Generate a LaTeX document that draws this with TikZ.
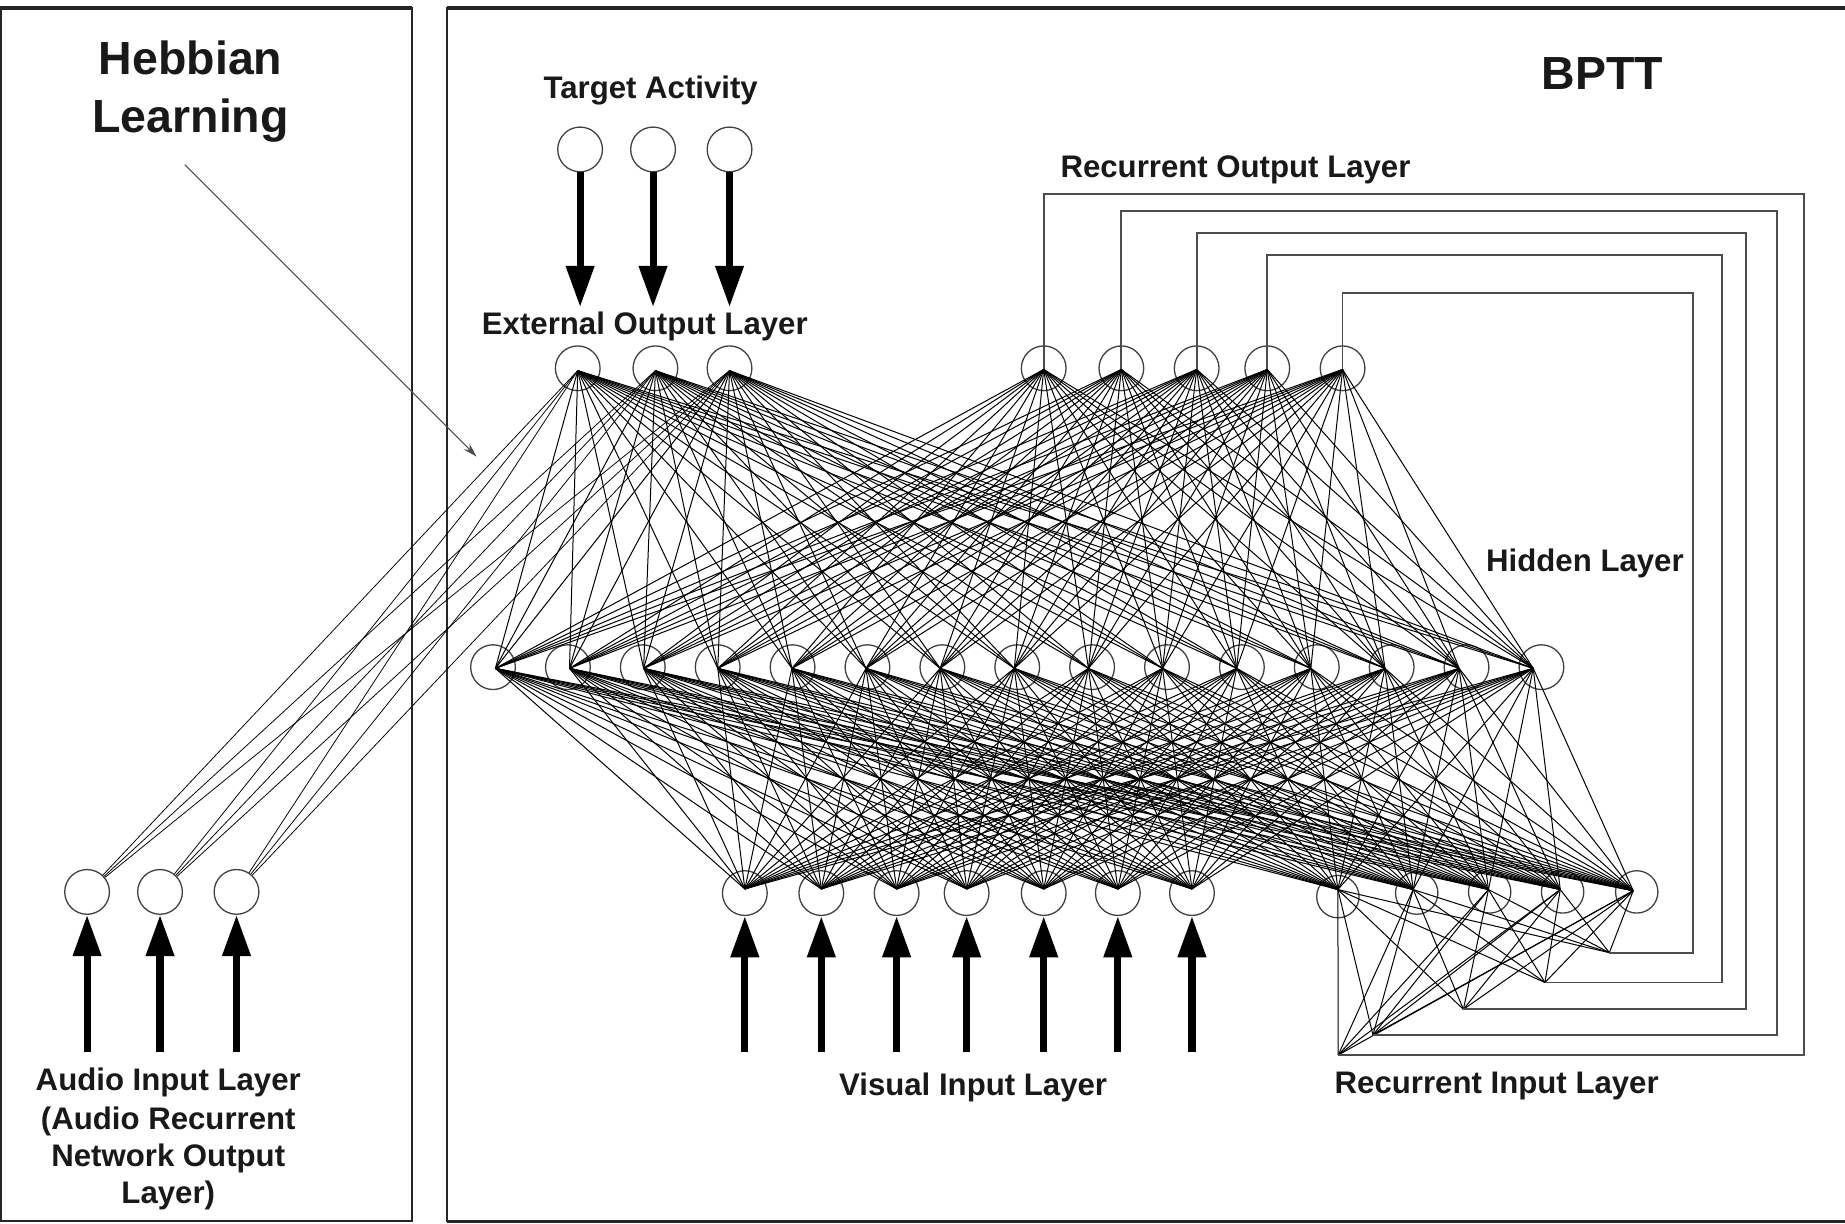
\documentclass[tikz,border=0pt]{standalone}
\usepackage{fontspec}
\setmainfont{Liberation Sans}
\usetikzlibrary{arrows.meta}
\begin{document}
\begin{tikzpicture}[x=1pt,y=-1pt,
  unit/.style={circle, draw=black!75, line width=1.1pt, minimum size=38pt, inner sep=0pt},
  conn/.style={line width=0.85pt, black},
  loopline/.style={line width=1.5pt, black!70},
  bigarrow/.style={line width=6pt, black, -{Triangle[length=35pt,width=23pt]}},
  lbl/.style={font=\fontsize{26.5}{32}\selectfont\bfseries, inner sep=0pt, anchor=base, text=black!90},
  ttl/.style={font=\fontsize{39.5}{49}\selectfont\bfseries, inner sep=0pt, anchor=base, text=black!90},
  framel/.style={line width=1.6pt, black!85},
  framet/.style={line width=3pt, black!85}
]
\useasboundingbox (0,0) rectangle (1568,1040);

% frames
\draw[framel] (1,7) rectangle (350,1038);
\draw[framet] (0,7) -- (350,7);
\draw[framel] (1575,7) -- (380,7) -- (380,1038) -- (1575,1038);
\draw[framet] (380,7) -- (1575,7);
\draw[framet] (380,1038) -- (1575,1038);

% ---------- coordinates / ports ----------
% hidden layer
\foreach \k in {1,...,15}{
  \pgfmathsetmacro{\hx}{421+63*(\k-1)}
  \coordinate (hp\k) at (\hx,568);
}
% external output
\foreach \j/\x in {1/491,2/557,3/620}{
  \coordinate (eop\j) at (\x,315);
}
% recurrent output
\foreach \j/\x in {1/887,2/953,3/1017,4/1077,5/1141}{
  \coordinate (rop\j) at (\x,314);
}
% visual input
\foreach \j/\x in {1/633,2/698,3/762,4/821.5,5/887,6/950,7/1013}{
  \coordinate (vp\j) at (\x,755.5);
  \coordinate (vb\j) at (\x,894);
}
% recurrent input
\foreach \j/\x/\y in {1/1137/756,2/1201/756,3/1265/756,4/1326/756,5/1388/757}{
  \coordinate (rip\j) at (\x,\y);
}
% loop end points
\foreach \j/\x/\y in {1/1137.3/896.6,2/1166.8/879.6,3/1243.7/857.8,4/1313/835,5/1367.7/809.6}{
  \coordinate (b\j) at (\x,\y);
}
% loop corners
\foreach \j/\x/\y in {1/1533/165,2/1510/179,3/1484/198,4/1463.5/217,5/1439/249}{
  \coordinate (lc\j) at (\x,\y);
}

% ---------- nodes ----------
\foreach \k in {1,...,15}{
  \pgfmathsetmacro{\hc}{421+63*(\k-1)-2+9*(\k-1)/14}
  \node[unit] (h\k) at (\hc,567) {};
}
\foreach \j/\x in {1/491,2/557,3/620}{
  \node[unit] (eo\j) at (\x,313) {};
}
\foreach \j/\x in {1/887,2/953,3/1017,4/1077,5/1141}{
  \node[unit] (ro\j) at (\x,313) {};
}
\foreach \j/\x in {1/633,2/698,3/762,4/821.5,5/887,6/950,7/1013}{
  \node[unit] (v\j) at (\x,759) {};
}
\foreach \j/\x/\y in {1/1137/762,2/1204/759,3/1266/758,4/1328/758,5/1391/758}{
  \node[unit, minimum size=36pt] (ri\j) at (\x,\y) {};
}
\foreach \j/\x in {1/493,2/555,3/620}{
  \node[unit] (t\j) at (\x,127) {};
  \coordinate (tt\j) at (\x,261);
}
\foreach \j/\x in {1/74,2/136,3/201}{
  \node[unit] (a\j) at (\x,758) {};
  \coordinate (ab\j) at (\x,894);
}

% ---------- connections ----------
\foreach \k in {1,...,15}{
  \foreach \j in {1,2,3} {\draw[conn] (hp\k) -- (eop\j);}
  \foreach \j in {1,...,5} {\draw[conn] (hp\k) -- (rop\j);}
  \foreach \j in {1,...,7} {\draw[conn] (hp\k) -- (vp\j);}
  \foreach \j in {1,...,5} {\draw[conn] (hp\k) -- (rip\j);}
}
\foreach \i in {1,...,5}{
  \foreach \j in {1,...,5} {\draw[conn] (b\i) -- (rip\j);}
}
% Hebbian connections
\foreach \i in {1,2,3}{
  \foreach \j in {1,2,3} {\draw[conn, line width=0.65pt] (a\i) -- (eop\j);}
}

% recurrent loops
\foreach \j in {1,...,5}{
  \draw[loopline] (rop\j) |- (lc\j) |- (b\j);
}

% thick arrows
\foreach \j in {1,2,3}{
  \draw[bigarrow] (t\j) -- (tt\j);
  \draw[bigarrow] (ab\j) -- (a\j);
}
\foreach \j in {1,...,7}{
  \draw[bigarrow] (vb\j) -- (v\j);
}

% Hebbian pointer
\coordinate (hs) at (157,140);
\coordinate (he) at (405,388);
\draw[line width=0.9pt, black!70, -{Stealth[length=12pt,width=7pt]}] (hs) -- (he);

% ---------- labels ----------
\node[ttl] (hebb1) at (162,63.7) {Hebbian};
\node[ttl] (hebb2) at (162,112.8) {Learning};
\node[ttl] (bptt) at (1362,76) {BPTT};
\node[lbl] (ltarget) at (553,83.6) {Target Activity};
\node[lbl] (lext) at (548,284.7) {External Output Layer};
\node[lbl] (lrout) at (1050,150.7) {Recurrent Output Layer};
\node[lbl] (lhid) at (1347,486) {Hidden Layer};
\node[lbl] (lvis) at (827,931.4) {Visual Input Layer};
\node[lbl] (lrin) at (1272,929) {Recurrent Input Layer};
\node[lbl] (laud1) at (143,926.9) {Audio Input Layer};
\node[lbl] (laud2) at (143,959.7) {(Audio Recurrent};
\node[lbl] (laud3) at (143,991.5) {Network Output};
\node[lbl] (laud4) at (143,1023.2) {Layer)};
\end{tikzpicture}
\end{document}
